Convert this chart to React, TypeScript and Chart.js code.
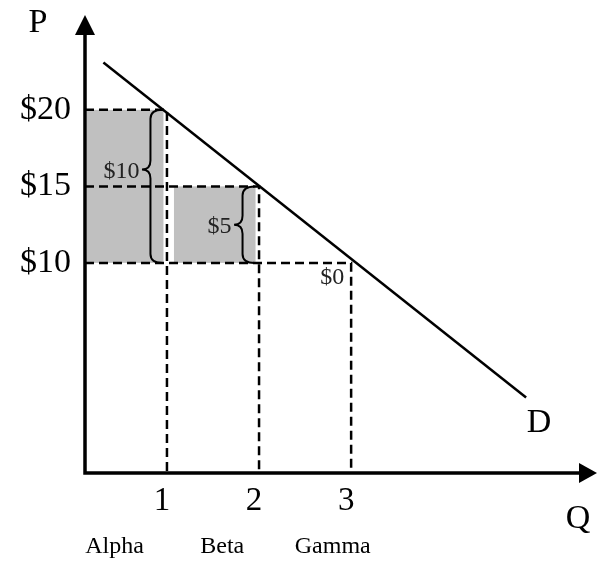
import { useEffect, useRef } from "react";
import { Chart, registerables } from "chart.js";

Chart.register(...registerables);

// ---- data ----
const consumers = ["Alpha", "Beta", "Gamma"];
const quantities = [1, 2, 3];
const willingnessToPay = [20, 15, 10];
const marketPrice = 10;
const surplusLabels = ["$10", "$5", "$0"];
const braceTipPrice = [16.1, 12.5];
const nameAnchorQ = [0.43, 1.6, 2.8];
const priceTicks = [10, 15, 20];
const quantityTicks = [1, 2, 3];
const demandQ = [0.31, 4.9];
const demandP = [23.1, 1.2];

const X_MIN = 0.11;
const X_MAX = 5.67;
const Y_MIN = -3.73;
const Y_MAX = 26.2;

const SERIF = '"Liberation Serif", "Times New Roman", serif';

function drawBrace(ctx: CanvasRenderingContext2D, xs: number, yTop: number, yBot: number, yTip: number) {
  const ed = 12;
  const td = 8.5;
  const r = 9;
  ctx.beginPath();
  ctx.moveTo(xs + ed, yTop);
  ctx.quadraticCurveTo(xs, yTop, xs, yTop + r);
  ctx.lineTo(xs, yTip - r);
  ctx.quadraticCurveTo(xs, yTip, xs - td, yTip);
  ctx.quadraticCurveTo(xs, yTip, xs, yTip + r);
  ctx.lineTo(xs, yBot - r);
  ctx.quadraticCurveTo(xs, yBot, xs + ed, yBot);
  ctx.stroke();
}

const figurePlugin = {
  id: "figure",
  beforeDatasetsDraw(chart: any) {
    const { ctx, chartArea } = chart;
    const x = chart.scales.x;
    const y = chart.scales.y;
    ctx.save();
    ctx.fillStyle = "#c0c0c0";
    quantities.forEach((q, i) => {
      if (willingnessToPay[i] - marketPrice <= 0) return;
      const x0 = i === 0 ? chartArea.left + 2 : x.getPixelForValue(quantities[i - 1]) + 7;
      const x1 = x.getPixelForValue(q) - 3.5;
      const yTop = y.getPixelForValue(willingnessToPay[i]);
      const yBot = y.getPixelForValue(marketPrice);
      ctx.fillRect(x0, yTop, x1 - x0, yBot - yTop);
    });
    ctx.restore();
  },
  afterDatasetsDraw(chart: any) {
    const { ctx, chartArea } = chart;
    const x = chart.scales.x;
    const y = chart.scales.y;
    const { left, right, top, bottom } = chartArea;
    ctx.save();

    // braces and surplus labels
    ctx.strokeStyle = "#000";
    ctx.lineWidth = 2;
    ctx.fillStyle = "#222";
    ctx.font = `24px ${SERIF}`;
    ctx.textBaseline = "middle";
    ctx.textAlign = "right";
    quantities.forEach((q, i) => {
      const qpx = x.getPixelForValue(q);
      const yTop = y.getPixelForValue(willingnessToPay[i]);
      const yBot = y.getPixelForValue(marketPrice);
      if (willingnessToPay[i] - marketPrice > 0) {
        const xs = qpx - 16.5;
        const yTip = y.getPixelForValue(braceTipPrice[i]);
        drawBrace(ctx, xs, yTop, yBot, yTip);
        ctx.fillText(surplusLabels[i], xs - 11, yTip + 2);
      } else {
        ctx.fillText(surplusLabels[i], qpx - 7, yBot + 15);
      }
    });

    // axes with arrows
    ctx.fillStyle = "#000";
    ctx.strokeStyle = "#000";
    ctx.lineWidth = 3.5;
    ctx.beginPath();
    ctx.moveTo(left, bottom + 1.75);
    ctx.lineTo(left, top + 15);
    ctx.moveTo(left - 1.75, bottom);
    ctx.lineTo(right - 15, bottom);
    ctx.stroke();
    ctx.beginPath();
    ctx.moveTo(left, top);
    ctx.lineTo(left - 10, top + 20);
    ctx.lineTo(left + 10, top + 20);
    ctx.closePath();
    ctx.fill();
    ctx.beginPath();
    ctx.moveTo(right, bottom);
    ctx.lineTo(right - 18, bottom - 10);
    ctx.lineTo(right - 18, bottom + 10);
    ctx.closePath();
    ctx.fill();

    // axis titles and curve label
    ctx.textAlign = "center";
    ctx.textBaseline = "middle";
    ctx.font = `34px ${SERIF}`;
    ctx.fillText("P", left - 47, top + 8);
    ctx.fillText("Q", right - 19, bottom + 46);
    const dEndX = x.getPixelForValue(demandQ[1]);
    const dEndY = y.getPixelForValue(demandP[1]);
    ctx.fillText("D", dEndX + 13, dEndY + 26);

    // consumer names
    ctx.font = `24px ${SERIF}`;
    consumers.forEach((name, i) => {
      ctx.fillText(name, x.getPixelForValue(nameAnchorQ[i]), bottom + 74);
    });

    ctx.restore();
  },
};

export default function App() {
  const canvasRef = useRef<HTMLCanvasElement | null>(null);

  useEffect(() => {
    const canvas = canvasRef.current;
    if (!canvas) return;

    const guideSets = quantities.map((q, i) => ({
      label: `guide-${consumers[i]}`,
      data: [
        { x: X_MIN, y: willingnessToPay[i] },
        { x: q, y: willingnessToPay[i] },
        { x: q, y: Y_MIN },
      ],
      showLine: true,
      borderColor: "#000",
      borderWidth: 2.5,
      borderDash: [9, 5],
      pointRadius: 0,
      fill: false,
      tension: 0,
    }));

    const chart = new Chart(canvas, {
      type: "scatter",
      data: {
        datasets: [
          {
            label: "Demand",
            data: demandQ.map((q, i) => ({ x: q, y: demandP[i] })),
            showLine: true,
            borderColor: "#000",
            borderWidth: 2.5,
            pointRadius: 0,
            fill: false,
          },
          ...guideSets,
        ],
      },
      options: {
        responsive: false,
        animation: false,
        events: [],
        layout: { padding: { top: 15, right: 1, left: 0, bottom: 0 } },
        plugins: {
          legend: { display: false },
          tooltip: { enabled: false },
        },
        scales: {
          x: {
            type: "linear",
            min: X_MIN,
            max: X_MAX,
            grid: { display: false, drawTicks: false },
            border: { display: false },
            afterBuildTicks: (scale: any) => {
              scale.ticks = quantityTicks.map((v) => ({ value: v }));
            },
            afterFit: (scale: any) => {
              scale.height = 89;
              scale.paddingLeft = 0;
              scale.paddingRight = 0;
            },
            ticks: {
              color: "#000",
              padding: 9,
              labelOffset: -5,
              maxRotation: 0,
              autoSkip: false,
              font: { family: SERIF, size: 33 },
              callback: (v: any) => String(v),
            },
          },
          y: {
            type: "linear",
            min: Y_MIN,
            max: Y_MAX,
            grid: { display: false, drawTicks: false },
            border: { display: false },
            afterBuildTicks: (scale: any) => {
              scale.ticks = priceTicks.map((v) => ({ value: v }));
            },
            afterFit: (scale: any) => {
              scale.width = 85;
              scale.paddingTop = 0;
              scale.paddingBottom = 0;
            },
            ticks: {
              color: "#000",
              padding: 14,
              autoSkip: false,
              font: { family: SERIF, size: 34 },
              callback: (v: any) => `$${v}`,
            },
          },
        },
      },
      plugins: [figurePlugin],
    });

    return () => chart.destroy();
  }, []);

  return (
    <div style={{ position: "fixed", left: 0, top: 0, width: 598, height: 562, background: "#fff" }}>
      <canvas ref={canvasRef} width={598} height={562} style={{ display: "block" }} />
    </div>
  );
}
